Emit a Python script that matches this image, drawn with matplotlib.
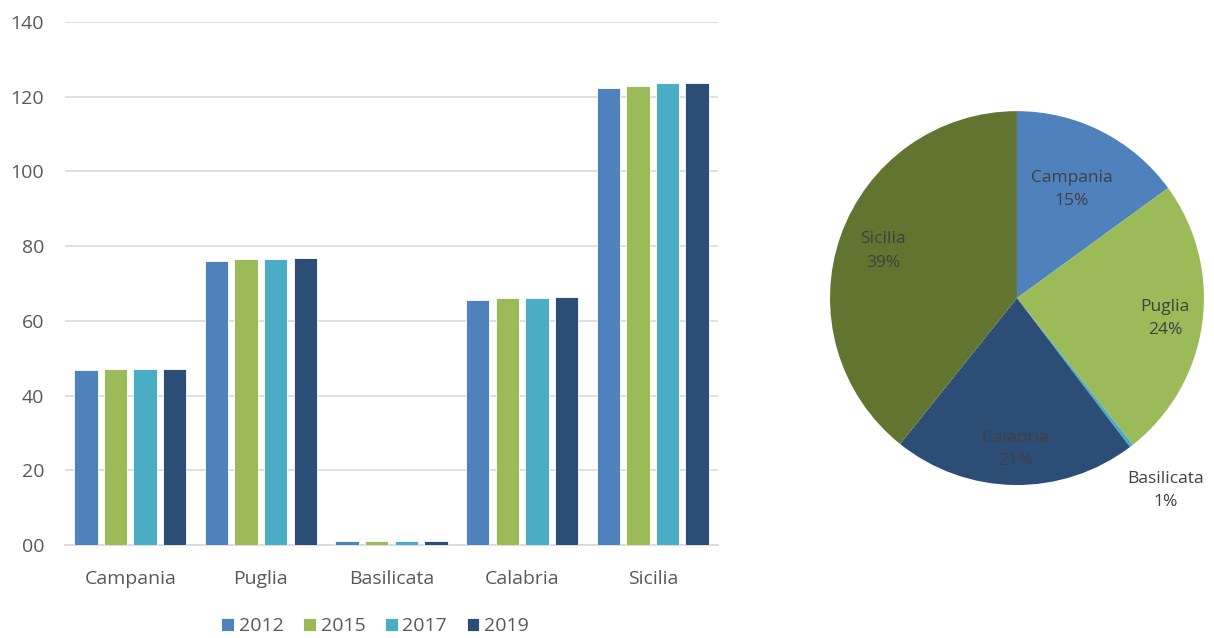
import numpy as np
import matplotlib.pyplot as plt

# dati
regioni = ["Campania", "Puglia", "Basilicata", "Calabria", "Sicilia"]
anni = ["2012", "2015", "2017", "2019"]
v2012 = [46.9, 75.9, 1.0, 65.7, 122.4]
v2015 = [47.0, 76.5, 1.0, 66.1, 122.9]
v2017 = [47.1, 76.6, 1.0, 66.2, 123.6]
v2019 = [47.2, 76.8, 1.0, 66.4, 123.7]
serie = [v2012, v2015, v2017, v2019]
colori = ["#4F81BD", "#9BBB59", "#4BACC6", "#2C4D75"]
colori_torta = ["#4F81BD", "#9BBB59", "#4BACC6", "#2C4D75", "#617530"]
yticks = [0, 20, 40, 60, 80, 100, 120, 140]
ytick_lbl = ["00", "20", "40", "60", "80", "100", "120", "140"]
raggi_etichette = [0.65, 0.80, 1.3, 0.81, 0.76]

plt.rcParams['font.family'] = ['Open Sans', 'DejaVu Sans']
grigio = "#595959"

fig = plt.figure(figsize=(12.14, 6.38), dpi=100)

# --- istogramma ---
ax = fig.add_axes([0.0535, 0.1458, 0.538, 0.8197])
x = np.arange(len(regioni))
passo = 0.227
for i, (vals, c, a) in enumerate(zip(serie, colori, anni)):
    ax.bar(x + (i - 1.5) * passo, vals, width=0.18, color=c, label=a,
           edgecolor="white", linewidth=0.6, zorder=3)
ax.set_xlim(-0.5, 4.5)
ax.set_ylim(0, 140)
ax.set_yticks(yticks)
ax.set_yticklabels(ytick_lbl)
ax.set_xticks(x)
ax.set_xticklabels(regioni)
ax.grid(axis="y", color="#D9D9D9", linewidth=1.2, zorder=0)
for s in ["top", "right", "left"]:
    ax.spines[s].set_visible(False)
ax.spines["bottom"].set_color("#D9D9D9")
ax.spines["bottom"].set_linewidth(1.2)
ax.tick_params(axis="both", length=0, labelsize=14, colors=grigio)
ax.tick_params(axis="y", pad=15)
ax.tick_params(axis="x", pad=18)
ax.legend(loc="upper center", bbox_to_anchor=(0.475, -0.112), ncol=4, frameon=False,
          fontsize=14, labelcolor=grigio, handlelength=0.65, handleheight=0.65,
          handletextpad=0.25, columnspacing=1.0, borderpad=0.2)

# --- torta ---
ax2 = fig.add_axes([0.6837, 0.2398, 0.308, 0.586])
cunei, _ = ax2.pie(v2019, colors=colori_torta, startangle=90, counterclock=False,
                   radius=1.0)
tot = sum(v2019)
for w, nome, v, r in zip(cunei, regioni, v2019, raggi_etichette):
    ang = np.deg2rad((w.theta1 + w.theta2) / 2)
    pct = max(1, round(v / tot * 100))
    ax2.text(r * np.cos(ang), r * np.sin(ang), f"{nome}\n{pct}%",
             ha="center", va="center", fontsize=12.5, color="#404040",
             linespacing=1.6)
ax2.set_xlim(-1, 1)
ax2.set_ylim(-1, 1)
ax2.set_aspect("auto")
ax2.axis("off")

fig.savefig("out.png", dpi=100)
